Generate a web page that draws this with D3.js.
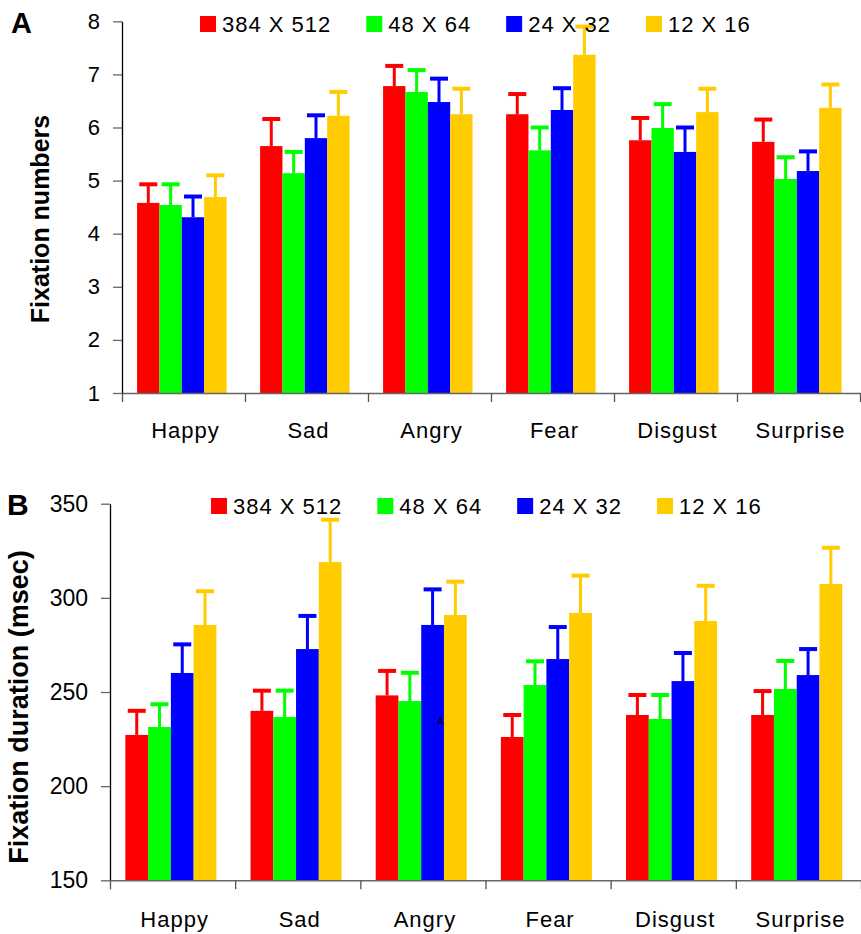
<!DOCTYPE html>
<head>
<meta charset="utf-8">
<title>Fixation numbers and duration by resolution</title>
<script src="https://d3js.org/d3.v7.min.js"></script>
<style>
body {
  margin: 0;
  background: #fff;
  font-family: "Liberation Sans", Arial, sans-serif;
}
svg { display: block; }
.axis text { fill: #000; font-family: "Liberation Sans", Arial, sans-serif; }
.y.axis .domain { stroke: #000; stroke-width: 1.3px; }
.y.axis .tick line { stroke: #666; stroke-width: 1.3px; }
.x.axis .domain { stroke: #666; stroke-width: 1.5px; }
.x.axis .tick line { stroke: #555; stroke-width: 1.3px; }
.legend text { font-size: 22px; letter-spacing: 1px; }
.cat text { font-size: 22px; letter-spacing: 1px; }
</style>
</head>
<body>
<script>

const categories = ["Happy", "Sad", "Angry", "Fear", "Disgust", "Surprise"];
const series = ["384 X 512", "48 X 64", "24 X 32", "12 X 16"];
const colors = ["#ff0000", "#00ff00", "#0000ff", "#ffcc00"];

// panel A: fixation numbers (mean, upper error) per category, one value per series
const countMeans = [
  [4.58, 4.54, 4.31, 4.69],
  [5.65, 5.14, 5.80, 6.22],
  [6.78, 6.67, 6.48, 6.25],
  [6.25, 5.57, 6.33, 7.37],
  [5.76, 5.99, 5.54, 6.29],
  [5.73, 5.03, 5.18, 6.37]
];
const countErrors = [
  [0.35, 0.39, 0.39, 0.41],
  [0.51, 0.40, 0.43, 0.45],
  [0.38, 0.41, 0.44, 0.48],
  [0.38, 0.43, 0.41, 0.53],
  [0.42, 0.45, 0.46, 0.44],
  [0.42, 0.41, 0.37, 0.44]
];
const countTicks = [1, 2, 3, 4, 5, 6, 7, 8];

// panel B: fixation duration in msec
const durationMeans = [
  [227.2, 231.4, 260.1, 285.6],
  [240.0, 236.7, 272.8, 319.0],
  [248.2, 245.2, 285.6, 290.9],
  [226.1, 253.7, 267.5, 292.0],
  [237.8, 235.7, 255.8, 287.7],
  [237.8, 251.6, 259.0, 307.4]
];
const durationErrors = [
  [12.8, 12.1, 15.2, 17.9],
  [10.7, 14.0, 17.6, 22.5],
  [13.0, 15.0, 18.9, 17.7],
  [11.7, 12.6, 17.0, 19.8],
  [10.6, 12.7, 14.9, 18.7],
  [12.7, 14.9, 13.8, 19.2]
];
const durationTicks = [150, 200, 250, 300, 350];

const width = 861, height = 934;

let svg = d3.select('body').append('svg')
  .attr('width', width)
  .attr('height', height);

drawPanel({
  letter: 'A', letterX: 11, letterY: 33, letterSize: 29,
  title: 'Fixation numbers', titleX: 49, titleY: 219, titleSize: 25,
  means: countMeans, errors: countErrors, ticks: countTicks,
  domain: [1, 8], left: 122, right: 860, top: 21.3, bottom: 393,
  tickSize: 22, legendX: 200, legendY: 16, labelY: 438
});

drawPanel({
  letter: 'B', letterX: 7, letterY: 515, letterSize: 30,
  title: 'Fixation duration (msec)', titleX: 28, titleY: 707, titleSize: 27,
  means: durationMeans, errors: durationErrors, ticks: durationTicks,
  domain: [150, 350], left: 110, right: 861, top: 503.7, bottom: 880.3,
  tickSize: 23, legendX: 211, legendY: 498, labelY: 927
});

// stray mark left in the original figure
svg.append('text')
  .attr('x', 437).attr('y', 725)
  .style('font-size', '10px')
  .text('A');

function drawPanel(p) {
  let g = svg.append('g');

  let x0 = d3.scaleBand()
    .domain(categories)
    .range([p.left, p.right]);

  let x1 = d3.scaleBand()
    .domain(series)
    .range([0, x0.bandwidth()])
    .paddingInner(0)
    .paddingOuter(0.75)
    .align(0.45);

  let y = d3.scaleLinear()
    .domain(p.domain)
    .range([p.bottom, p.top]);

  let xIdx = d3.scaleLinear()
    .domain([0, categories.length])
    .range([p.left, p.right]);

  let rows = (d, i) => series.map((s, j) => ({s: s, j: j, v: p.means[i][j], e: p.errors[i][j]}));

  // bars
  let groups = g.append('g').selectAll('g')
    .data(categories)
    .enter().append('g')
      .attr('transform', d => 'translate(' + x0(d) + ',0)');

  groups.selectAll('rect')
    .data(rows)
    .enter().append('rect')
      .attr('x', d => x1(d.s))
      .attr('y', d => y(d.v))
      .attr('width', x1.bandwidth())
      .attr('height', d => y(p.domain[0]) - y(d.v))
      .style('fill', d => colors[d.j]);

  // upper error bars
  let err = groups.selectAll('g.err')
    .data(rows)
    .enter().append('g')
      .attr('class', 'err')
      .style('stroke', d => colors[d.j]);

  err.append('line')
    .attr('x1', d => x1(d.s) + x1.bandwidth() / 2)
    .attr('x2', d => x1(d.s) + x1.bandwidth() / 2)
    .attr('y1', d => y(d.v))
    .attr('y2', d => y(d.v + d.e))
    .style('stroke-width', 3);

  err.append('line')
    .attr('x1', d => x1(d.s) + x1.bandwidth() / 2 - 9)
    .attr('x2', d => x1(d.s) + x1.bandwidth() / 2 + 9)
    .attr('y1', d => y(d.v + d.e))
    .attr('y2', d => y(d.v + d.e))
    .style('stroke-width', 4);

  // y axis
  g.append('g')
    .attr('class', 'y axis')
    .attr('transform', 'translate(' + p.left + ',0)')
    .call(d3.axisLeft(y).tickValues(p.ticks).tickFormat(d3.format('d'))
      .tickSize(9).tickSizeOuter(0).tickPadding(13))
    .selectAll('text')
      .style('font-size', p.tickSize + 'px');

  // x axis with ticks between categories
  g.append('g')
    .attr('class', 'x axis')
    .attr('transform', 'translate(0,' + p.bottom + ')')
    .call(d3.axisBottom(xIdx).ticks(categories.length).tickFormat('').tickSize(9).tickSizeOuter(0));

  g.append('g')
    .attr('class', 'cat')
    .selectAll('text')
    .data(categories)
    .enter().append('text')
      .attr('x', d => x0(d) + x0.bandwidth() / 2 + 2)
      .attr('y', p.labelY)
      .attr('text-anchor', 'middle')
      .text(d => d);

  // legend, laid out by text width
  let legend = g.append('g').attr('class', 'legend');
  let lx = p.legendX;
  series.forEach((s, j) => {
    legend.append('rect')
      .attr('x', lx).attr('y', p.legendY)
      .attr('width', 16).attr('height', 16)
      .style('fill', colors[j]);
    let t = legend.append('text')
      .attr('x', lx + 22).attr('y', p.legendY + 15.5)
      .text(s);
    lx += 22 + t.node().getComputedTextLength() + 35;
  });

  // panel letter and y title
  g.append('text')
    .attr('x', p.letterX).attr('y', p.letterY)
    .style('font-size', p.letterSize + 'px')
    .style('font-weight', 'bold')
    .text(p.letter);

  g.append('text')
    .attr('transform', 'translate(' + p.titleX + ',' + p.titleY + ') rotate(-90)')
    .attr('text-anchor', 'middle')
    .style('font-size', p.titleSize + 'px')
    .style('font-weight', 'bold')
    .text(p.title);
}
</script>
</body>
